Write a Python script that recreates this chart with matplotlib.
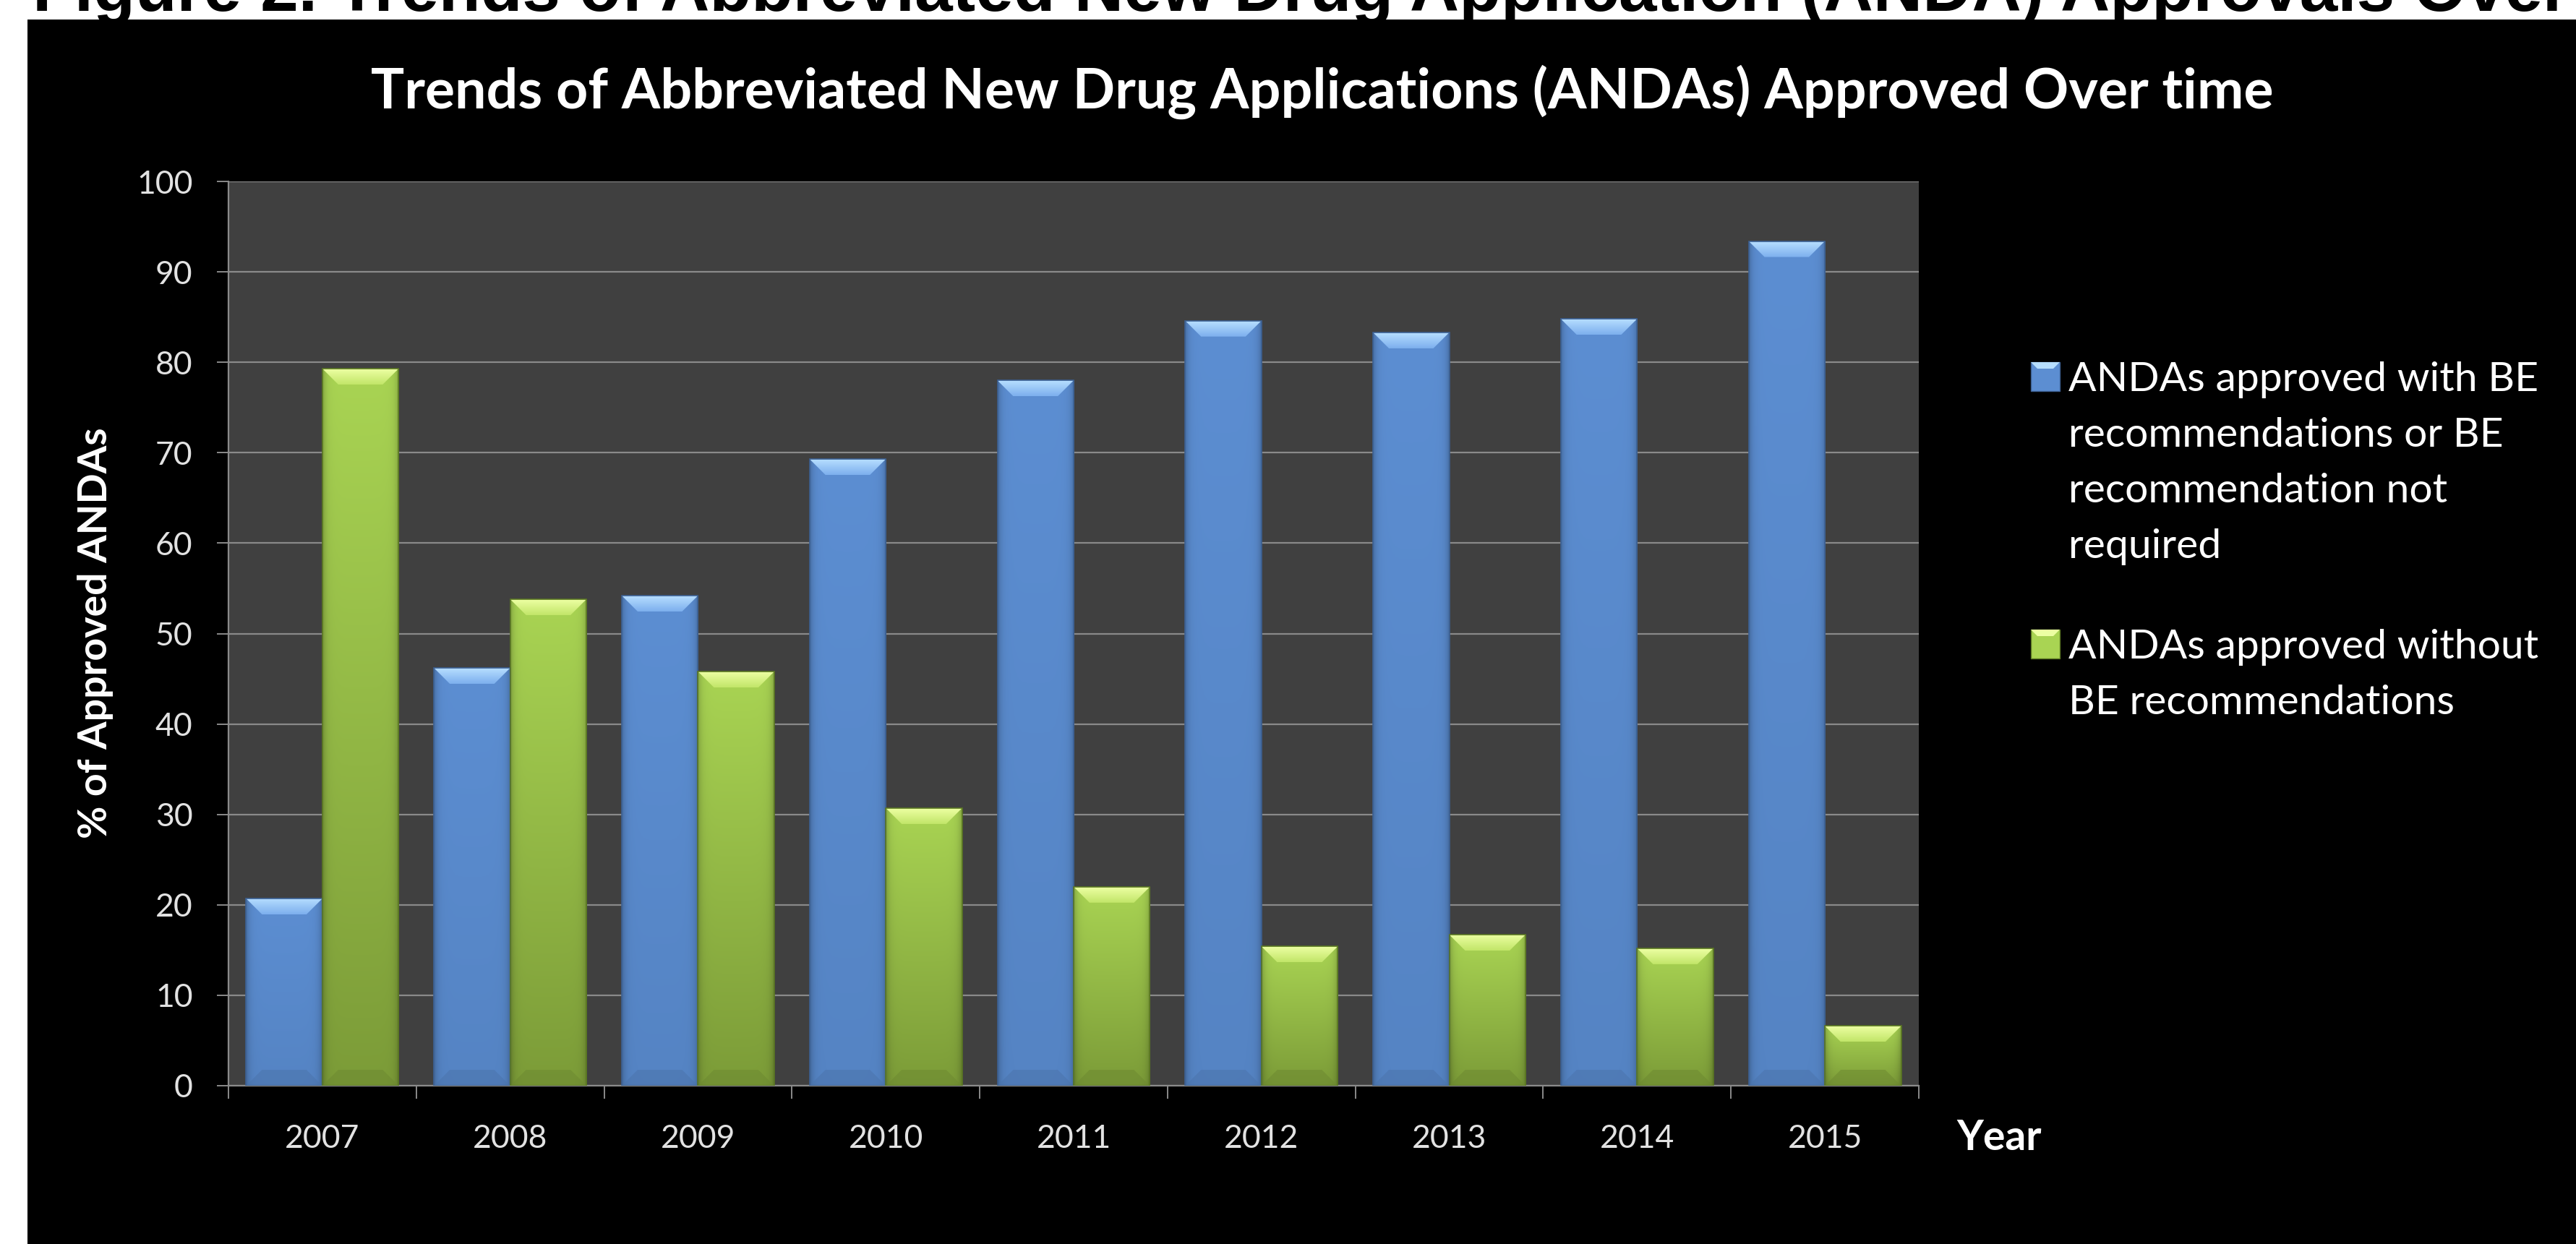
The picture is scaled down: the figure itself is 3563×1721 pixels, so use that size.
import numpy as np
import matplotlib
matplotlib.use("Agg")
import matplotlib.pyplot as plt
from matplotlib.patches import Rectangle, Polygon

# --------------------------------------------------------------------------- #
# Data (% of approved ANDAs per year)
# --------------------------------------------------------------------------- #
years = ["2007", "2008", "2009", "2010", "2011", "2012", "2013", "2014", "2015"]
with_be = [20.7, 46.2, 54.2, 69.3, 78.0, 84.6, 83.3, 84.8, 93.4]
without_be = [79.3, 53.8, 45.8, 30.7, 22.0, 15.4, 16.7, 15.2, 6.6]
series_labels = [
    "ANDAs approved with BE\nrecommendations or BE\nrecommendation not\nrequired",
    "ANDAs approved without\nBE recommendations",
]
y_ticks = list(range(0, 101, 10))

caption = "Figure 2. Trends of Abbreviated New Drug Application (ANDA) Approvals Over Time"
title = "Trends of Abbreviated New Drug Applications (ANDAs) Approved Over time"
y_label = "% of Approved ANDAs"
x_label = "Year"

# --------------------------------------------------------------------------- #
# Layout (pixels of the 3563 x 1721 canvas)
# --------------------------------------------------------------------------- #
W, H, DPI = 3563, 1721, 100
AX_L, AX_R, AX_T, AX_B = 316, 2654, 251, 1502
FONT = "Lato"

BLUE = dict(top="#5c8ed2", bottom="#5584c4", bev_top="#b6deff", bev_bot="#7eb0ee",
            edge="#3c6092")
GREEN = dict(top="#a9d453", bottom="#7c9c38", bev_top="#ecffa2", bev_bot="#c3e66a",
             edge="#5a7722")
GRID = "#8a8a8a"
TICK_TXT = "#e2e2e2"


def fx(px):
    return px / W


def fy(py):
    return 1 - py / H


def rgb(c):
    return np.array(matplotlib.colors.to_rgb(c))


fig = plt.figure(figsize=(W / DPI, H / DPI), dpi=DPI, facecolor="white")

# cut-off figure caption on the white strip + black slide background
fig.text(fx(45), fy(15), caption, ha="left", va="baseline", color="black",
         fontsize=68, fontweight="bold", family="Liberation Sans", zorder=-3)
fig.add_artist(Rectangle((fx(38), 0), 1 - fx(38), fy(27), transform=fig.transFigure,
                         facecolor="black", edgecolor="none", zorder=-2))

ax = fig.add_axes([fx(AX_L), fy(AX_B), fx(AX_R) - fx(AX_L), fy(AX_T) - fy(AX_B)])
ax.set_facecolor("#404040")

x = np.arange(len(years))
bw = 0.406
bars_b = ax.bar(x - bw / 2, with_be, bw, color=BLUE["top"], lw=0, zorder=3)
bars_g = ax.bar(x + bw / 2, without_be, bw, color=GREEN["top"], lw=0, zorder=3)

ax.set_xlim(-0.5, len(years) - 0.5)
ax.set_ylim(0, 100)

# bevel size: ~22 px in both directions
px_per_x = (AX_R - AX_L) / len(years)
px_per_y = (AX_B - AX_T) / 100
BEV_X, BEV_Y = 22 / px_per_x, 22 / px_per_y


def shade_bar(bar, st):
    x0, w, h = bar.get_x(), bar.get_width(), bar.get_height()
    x1 = x0 + w
    u = np.linspace(0, 1, 80)
    v = np.linspace(1, 0, 80)[:, None, None]
    body = rgb(st["bottom"]) + (rgb(st["top"]) - rgb(st["bottom"])) * v
    side = 1 - 0.22 * (np.exp(-u / 0.045) + np.exp(-(1 - u) / 0.045))
    img = np.clip(body * side[None, :, None], 0, 1)
    im = ax.imshow(img, extent=(x0, x1, 0, h), aspect="auto",
                   interpolation="bilinear", zorder=3.1)
    im.set_clip_path(bar)

    # top bevel
    top = Polygon([(x0, h), (x1, h), (x1 - BEV_X, h - BEV_Y), (x0 + BEV_X, h - BEV_Y)],
                  closed=True, facecolor="none", edgecolor="none", zorder=3.2)
    ax.add_patch(top)
    vb = np.linspace(1, 0, 20)[:, None, None]
    bev = rgb(st["bev_bot"]) + (rgb(st["bev_top"]) - rgb(st["bev_bot"])) * vb
    bev = np.repeat(bev, 4, axis=1)
    ib = ax.imshow(bev, extent=(x0, x1, h - BEV_Y, h), aspect="auto",
                   interpolation="bilinear", zorder=3.2)
    ib.set_clip_path(top)

    # subtle bottom bevel
    ax.add_patch(Polygon([(x0, 0), (x1, 0), (x1 - BEV_X, BEV_Y), (x0 + BEV_X, BEV_Y)],
                         closed=True, facecolor=rgb(st["bottom"]) * 0.88, alpha=0.55,
                         edgecolor="none", zorder=3.2))
    ax.add_patch(Rectangle((x0, 0), w, h, fill=False, edgecolor=st["edge"], lw=1.2,
                           zorder=3.3))


for b in bars_b:
    shade_bar(b, BLUE)
for b in bars_g:
    shade_bar(b, GREEN)

ax.set_xlim(-0.5, len(years) - 0.5)
ax.set_ylim(0, 100)

# axes, ticks, grid
for s in ("top", "right"):
    ax.spines[s].set_visible(False)
for s in ("left", "bottom"):
    ax.spines[s].set_color(GRID)
    ax.spines[s].set_linewidth(1.6)
ax.set_yticks(y_ticks)
ax.set_xticks(x)
ax.set_xticklabels(years)
ax.set_xticks(np.arange(-0.5, len(years)), minor=True)
ax.yaxis.grid(True, color=GRID, lw=1.6)
ax.set_axisbelow(True)
ax.tick_params(axis="x", which="major", length=0, pad=38)
ax.tick_params(axis="x", which="minor", length=13, width=1.4, color=GRID, direction="out")
ax.tick_params(axis="y", length=11.5, width=1.4, color=GRID, direction="out", pad=24)
for lab in ax.get_xticklabels() + ax.get_yticklabels():
    lab.set_family(FONT)
    lab.set_fontsize(32)
    lab.set_color(TICK_TXT)

# texts
fig.text(fx(1829), fy(150), title, ha="center", va="baseline", color="white",
         fontsize=55.5, fontweight="bold", family=FONT)
fig.text(fx(132), fy(876), y_label, ha="center", va="center", rotation=90,
         color="white", fontsize=40, fontweight="bold", family=FONT)
fig.text(fx(2706), fy(1591), x_label, ha="left", va="baseline", color="white",
         fontsize=41, fontweight="bold", family=FONT)

# legend (drawn by hand so the marker sits on the first line)
LINE_H = 77
entry_baselines = [541, 911]
for label, st, base in zip(series_labels, (BLUE, GREEN), entry_baselines):
    mx0, my0, ms = 2809, base - 40, 40
    fig.add_artist(Rectangle((fx(mx0), fy(my0 + ms)), fx(ms), ms / H,
                             transform=fig.transFigure, facecolor=st["top"],
                             edgecolor=st["edge"], lw=1.0))
    fig.add_artist(Polygon([(fx(mx0), fy(my0)), (fx(mx0 + ms), fy(my0)),
                            (fx(mx0 + ms - 9), fy(my0 + 9)), (fx(mx0 + 9), fy(my0 + 9))],
                           closed=True, transform=fig.transFigure,
                           facecolor=st["bev_top"], edgecolor="none"))
    for i, line in enumerate(label.split("\n")):
        fig.text(fx(2861), fy(base + i * LINE_H), line, ha="left", va="baseline",
                 color="white", fontsize=41, family=FONT)

fig.savefig("out.png", dpi=DPI, facecolor=fig.get_facecolor())
